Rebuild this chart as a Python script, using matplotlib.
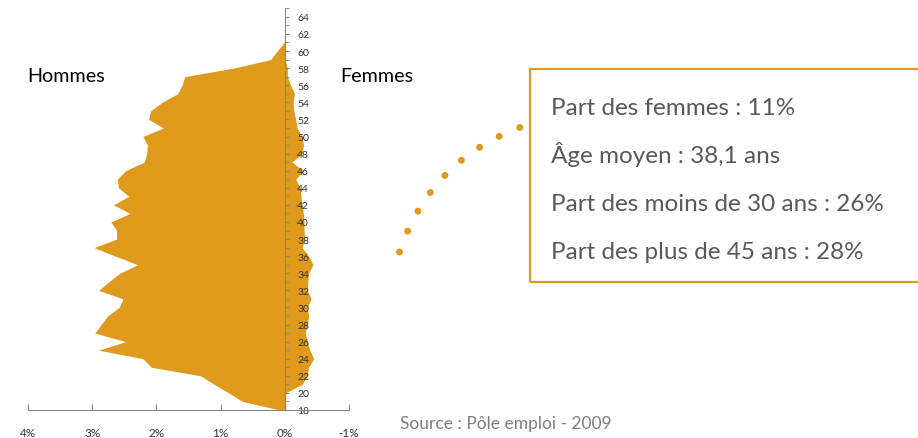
import matplotlib
matplotlib.use("Agg")
import matplotlib.pyplot as plt
from matplotlib.ticker import MultipleLocator, FuncFormatter
from matplotlib.patches import Rectangle, FancyArrowPatch

# share of job seekers by age (%)
ages = list(range(18, 66))
hommes = [0.07, 0.66, 0.87, 1.10, 1.31, 2.08, 2.21, 2.90, 2.48, 2.96,
          2.86, 2.76, 2.58, 2.52, 2.90, 2.74, 2.57, 2.29, 2.64, 2.97,
          2.62, 2.62, 2.71, 2.41, 2.67, 2.43, 2.59, 2.61, 2.48, 2.19,
          2.15, 2.14, 2.21, 1.89, 2.12, 2.09, 1.91, 1.67, 1.60, 1.56,
          0.80, 0.22, 0.12, 0.01, 0.0, 0.0, 0.0, 0.0]
femmes = [0.0, 0.0, 0.01, 0.27, 0.35, 0.37, 0.45, 0.39, 0.35, 0.32,
          0.35, 0.37, 0.35, 0.41, 0.35, 0.36, 0.37, 0.44, 0.37, 0.27,
          0.31, 0.30, 0.30, 0.29, 0.27, 0.25, 0.24, 0.17, 0.29, 0.11,
          0.27, 0.29, 0.27, 0.19, 0.17, 0.14, 0.13, 0.15, 0.09, 0.04,
          0.04, 0.0, 0.0, 0.0, 0.0, 0.0, 0.0, 0.0]

x_ticks = [4, 3, 2, 1, 0, -1]
infos = ["Part des femmes : 11%",
         "Âge moyen : 38,1 ans",
         "Part des moins de 30 ans : 26%",
         "Part des plus de 45 ans : 28%"]

orange = "#DF991B"
axis_grey = "#868686"
plt.rcParams['font.family'] = ['Lato', 'DejaVu Sans']

fig = plt.figure(figsize=(9.18, 4.39), dpi=100)
ax = fig.add_axes([28 / 918, 28 / 439, 321 / 918, 401.7 / 439])

# men on the left (positive, reversed axis), women on the right (negative)
ax.fill_betweenx(ages, [-f for f in femmes], hommes, color=orange, lw=0)

ax.set_xlim(4, -1)
ax.set_ylim(18, 65)

for s in ['top', 'left']:
    ax.spines[s].set_visible(False)
ax.spines['right'].set_position(('data', 0))
ax.spines['right'].set_color(axis_grey)
ax.spines['bottom'].set_color(axis_grey)
ax.yaxis.tick_right()

ax.set_xticks(x_ticks)
ax.xaxis.set_major_formatter(FuncFormatter(lambda v, p: "%d%%" % v))
ax.yaxis.set_major_locator(MultipleLocator(2))
ax.yaxis.set_minor_locator(MultipleLocator(1))
ax.set_yticks(range(18, 65, 2))
ax.tick_params(axis='x', colors=axis_grey, labelcolor='#333333',
               labelsize=8.5, length=4, direction='in', pad=12)
ax.tick_params(axis='y', which='major', colors=axis_grey, labelcolor='#333333',
               labelsize=7.5, length=3, direction='out', pad=6)
ax.tick_params(axis='y', which='minor', colors=axis_grey, length=3,
               direction='out')

fig.text(27 / 918, 1 - 77 / 439, "Hommes", fontsize=14.2, color='black',
         va='center', ha='left')
fig.text(340 / 918, 1 - 77 / 439, "Femmes", fontsize=14.2, color='black',
         va='center', ha='left')

# info box
box = Rectangle((530 / 918, 1 - 283 / 439), 400 / 918, 213 / 439,
                transform=fig.transFigure, fill=False, edgecolor=orange,
                lw=1.6, clip_on=False)
fig.patches.append(box)
for i, t in enumerate(infos):
    fig.text(551 / 918, 1 - (115 + 48 * i) / 439, t, fontsize=17.5,
             color='#595959', va='baseline', ha='left')

# dotted connector
conn = FancyArrowPatch((399.5 / 918, 1 - 253 / 439), (521 / 918, 1 - 128 / 439),
                       transform=fig.transFigure, arrowstyle='-',
                       connectionstyle='arc3,rad=-0.24', color=orange,
                       lw=5, linestyle=(0, (0.01, 3.22)), capstyle='round',
                       shrinkA=0, shrinkB=0)
fig.patches.append(conn)

fig.text(400 / 918, 1 - 424 / 439, "Source : Pôle emploi - 2009", fontsize=12.5,
         color='#7F7F7F', va='center', ha='left')

fig.savefig("out.png", dpi=100)
